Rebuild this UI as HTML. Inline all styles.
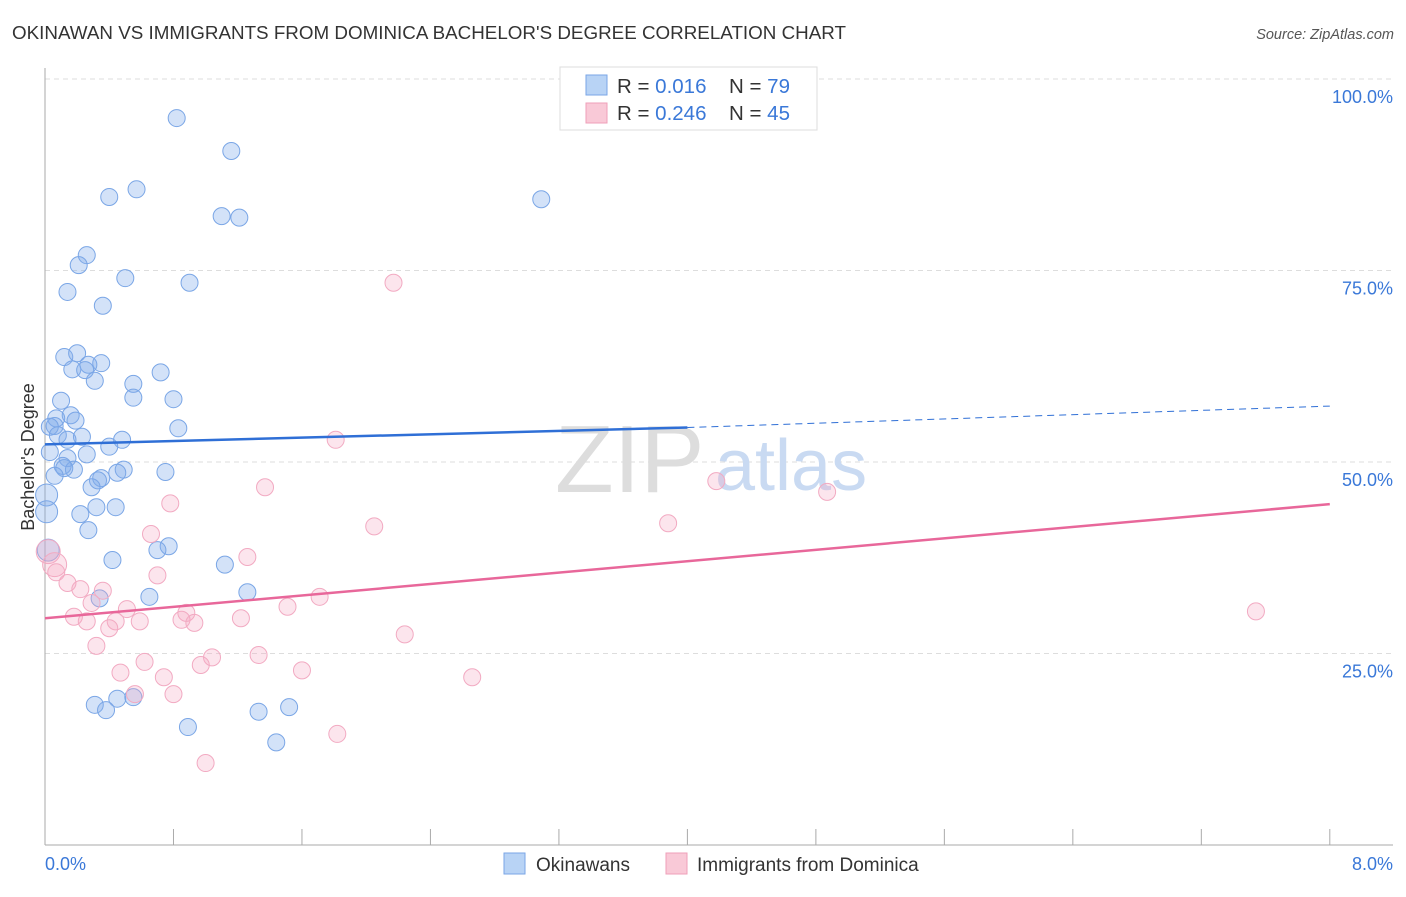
<!DOCTYPE html>
<html><head><meta charset="utf-8"><style>
body{margin:0;background:#fff;font-family:"Liberation Sans",sans-serif;}
svg text{font-family:"Liberation Sans",sans-serif;}
</style></head><body>
<svg id="chart" width="1406" height="892">
<text x="12" y="39" font-size="18" fill="#333" textLength="834" lengthAdjust="spacingAndGlyphs">OKINAWAN VS IMMIGRANTS FROM DOMINICA BACHELOR'S DEGREE CORRELATION CHART</text>
<text x="1394" y="39" font-size="14.5" fill="#555" font-style="italic" text-anchor="end">Source: ZipAtlas.com</text>
<g id="grid"></g>
<text x="555" y="492" font-size="96" fill="#ddd" font-family="Liberation Serif">ZIP</text>
<text x="715" y="490" font-size="72" fill="#c9daf2">atlas</text>
<g id="pts"></g>
<g id="lines"></g>
<text x="34" y="457" font-size="18" fill="#333" text-anchor="middle" transform="rotate(-90 34 457)">Bachelor's Degree</text>
<text x="45" y="870" font-size="18" fill="#3a78d8">0.0%</text>
<text x="1393" y="870" font-size="18" fill="#3a78d8" text-anchor="end">8.0%</text>
<g>
<rect x="560" y="67" width="257" height="63" fill="#fff" stroke="#ddd"/>
<rect x="586" y="75" width="21" height="20" fill="#b8d3f5" stroke="#7aa6e6"/>
<rect x="586" y="103" width="21" height="20" fill="#f9c9d7" stroke="#ef9fb8"/>
<text x="617" y="93" font-size="20.5" fill="#333">R = <tspan fill="#3a78d8">0.016</tspan><tspan x="729">N = </tspan><tspan fill="#3a78d8">79</tspan></text>
<text x="617" y="120" font-size="20.5" fill="#333">R = <tspan fill="#3a78d8">0.246</tspan><tspan x="729">N = </tspan><tspan fill="#3a78d8">45</tspan></text>
</g>
<g>
<rect x="504" y="853" width="21" height="21" fill="#b8d3f5" stroke="#7aa6e6"/>
<text x="536" y="871" font-size="19" fill="#333">Okinawans</text>
<rect x="666" y="853" width="21" height="21" fill="#f9c9d7" stroke="#ef9fb8"/>
<text x="697" y="871" font-size="19" fill="#333">Immigrants from Dominica</text>
</g>
</svg>
<script>
const blueX=[0.82,1.16,0.57,0.40,3.09,1.10,1.21,0.26,0.21,0.50,0.90,0.14,0.36,0.12,0.20,0.35,0.27,0.17,0.25,0.31,0.72,0.55,0.55,0.80,0.10,0.16,0.07,0.19,0.06,0.03,0.83,0.08,0.23,0.48,0.14,0.40,0.03,0.26,0.14,0.11,0.18,0.12,0.49,0.45,0.75,0.06,0.35,0.33,0.29,0.01,0.32,0.44,0.22,0.01,0.27,0.77,0.70,0.02,0.42,1.12,1.26,0.65,0.34,0.31,0.45,0.38,0.55,1.33,1.52,0.89,1.44];
const blueY=[94.9,90.6,85.6,84.6,84.3,82.1,81.9,77.0,75.7,74.0,73.4,72.2,70.4,63.7,64.2,62.9,62.7,62.1,62.0,60.6,61.7,60.2,58.4,58.2,58.0,56.1,55.7,55.4,54.7,54.6,54.4,53.5,53.3,52.9,52.9,52.0,51.3,51.0,50.5,49.5,49.0,49.2,49.0,48.6,48.7,48.2,47.9,47.6,46.7,45.7,44.1,44.1,43.2,43.5,41.1,39.0,38.5,38.5,37.2,36.6,33.0,32.4,32.2,18.3,19.1,17.6,19.3,17.4,18.0,15.4,13.4];
const pinkX=[2.17,1.81,1.37,0.78,4.18,4.87,3.88,2.05,0.66,1.26,0.02,0.06,0.07,0.70,0.14,0.22,0.36,1.71,0.29,0.51,1.51,0.88,0.18,0.26,0.44,0.59,0.85,0.93,1.22,0.40,2.24,0.32,1.04,1.33,0.62,0.97,1.60,0.47,0.74,2.66,0.56,0.80,1.82,1.00,7.54];
const pinkY=[73.4,52.9,46.7,44.6,47.5,46.1,42.0,41.6,40.6,37.6,38.3,36.6,35.6,35.2,34.2,33.4,33.2,32.4,31.6,30.8,31.1,30.3,29.8,29.2,29.2,29.2,29.4,29.0,29.6,28.3,27.5,26.0,24.5,24.8,23.9,23.5,22.8,22.5,21.9,21.9,19.7,19.7,14.5,10.7,30.5];
const yTicks=[25,50,75,100];
const yTickLabels=["25.0%","50.0%","75.0%","100.0%"];
const xTicks=[0,0.8,1.6,2.4,3.2,4.0,4.8,5.6,6.4,7.2,8.0];
const blueTrend=[52.3,54.5,57.3]; // at x=0, 4, 8
const pinkTrend=[29.6,44.5]; // at x=0, 8
const X=v=>45+v*160.6, Y=v=>845-v*7.66;
const NS="http://www.w3.org/2000/svg";
function mk(p,t,a){const e=document.createElementNS(NS,t);for(const k in a)e.setAttribute(k,a[k]);p.appendChild(e);return e;}
const grid=document.getElementById('grid');
yTicks.forEach((t,i)=>{
 const l=mk(grid,'line',{x1:45,x2:1393,y1:Y(t),y2:Y(t),stroke:'#ddd','stroke-dasharray':'5,4'});
 
 
 const tx=mk(grid,'text',{x:1393,y:Y(t)+24,'font-size':18,fill:'#3a78d8','text-anchor':'end'});
 tx.textContent=yTickLabels[i];
 
 
});
const ax=mk(grid,'line',{x1:45,x2:45,y1:68,y2:845,stroke:'#aaa'});


const bx=mk(grid,'line',{x1:45,x2:1393,y1:845,y2:845,stroke:'#aaa'});


xTicks.forEach(t=>{
 const l=mk(grid,'line',{x1:X(t),x2:X(t),y1:829,y2:845,stroke:'#aaa'});
 
 
});
const pts=document.getElementById('pts');
blueX.forEach((x,i)=>{
 const big=(x<0.05&&blueY[i]<40)||x<0.02;
 const c=mk(pts,'circle',{cx:X(x),cy:Y(blueY[i]),r:big?11:8.5,fill:'rgba(130,172,235,0.35)',stroke:'#7aa6e6','stroke-width':1});
 
 
});
pinkX.forEach((x,i)=>{
 const big=x<0.1&&pinkY[i]>36;
 const c=mk(pts,'circle',{cx:X(x),cy:Y(pinkY[i]),r:big?12:8.5,fill:'rgba(245,170,195,0.3)',stroke:'#f2aac2','stroke-width':1});
 
 
});
const lines=document.getElementById('lines');
const b1=mk(lines,'line',{x1:X(0),y1:Y(blueTrend[0]),x2:X(4),y2:Y(blueTrend[1]),stroke:'#2f6fd6','stroke-width':2.5});


const b2=mk(lines,'line',{x1:X(4),y1:Y(blueTrend[1]),x2:X(8),y2:Y(blueTrend[2]),stroke:'#2f6fd6','stroke-width':1,'stroke-dasharray':'7,5'});


const p1=mk(lines,'line',{x1:X(0),y1:Y(pinkTrend[0]),x2:X(8),y2:Y(pinkTrend[1]),stroke:'#e8679a','stroke-width':2.5});


</script>
</body></html>
